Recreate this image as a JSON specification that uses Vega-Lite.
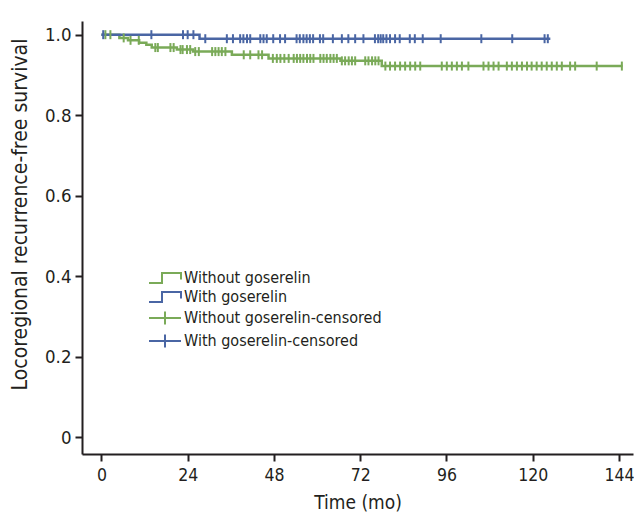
{
  "$schema": "https://vega.github.io/schema/vega-lite/v6.json",
  "width": 551,
  "height": 433,
  "autosize": "none",
  "padding": {"left": 82, "top": 21, "right": 1, "bottom": 60},
  "background": "white",
  "config": {
    "view": {"stroke": null},
    "font": "Liberation Sans Narrow, DejaVu Sans Condensed, sans-serif",
    "axis": {
      "grid": false,
      "domainColor": "#231f20",
      "domainWidth": 2,
      "tickColor": "#231f20",
      "tickWidth": 2,
      "tickSize": 7,
      "labelColor": "#231f20",
      "labelFontSize": 17.5,
      "labelFont": "Liberation Sans Narrow, DejaVu Sans Condensed, sans-serif",
      "titleFont": "Liberation Sans Narrow, DejaVu Sans Condensed, sans-serif",
      "titleFontSize": 19,
      "titleFontWeight": "normal",
      "titleColor": "#231f20"
    }
  },
  "datasets": {
    "km": [
      {"series": "Without goserelin", "t": 0, "s": 1.0},
      {"series": "Without goserelin", "t": 5.0, "s": 0.992},
      {"series": "Without goserelin", "t": 7.4, "s": 0.986},
      {"series": "Without goserelin", "t": 10.5, "s": 0.980},
      {"series": "Without goserelin", "t": 12.5, "s": 0.975},
      {"series": "Without goserelin", "t": 14.0, "s": 0.968},
      {"series": "Without goserelin", "t": 21.0, "s": 0.963},
      {"series": "Without goserelin", "t": 25.5, "s": 0.958},
      {"series": "Without goserelin", "t": 36.3, "s": 0.950},
      {"series": "Without goserelin", "t": 46.5, "s": 0.941},
      {"series": "Without goserelin", "t": 66.5, "s": 0.935},
      {"series": "Without goserelin", "t": 78.0, "s": 0.922},
      {"series": "Without goserelin", "t": 145.0, "s": 0.922},
      {"series": "With goserelin", "t": 0, "s": 1.0},
      {"series": "With goserelin", "t": 27.3, "s": 0.990},
      {"series": "With goserelin", "t": 124.9, "s": 0.990}
    ],
    "cens": [
      {"series": "Without goserelin-censored", "t": 1.1, "s": 1.0},
      {"series": "Without goserelin-censored", "t": 2.5, "s": 1.0},
      {"series": "Without goserelin-censored", "t": 6.2, "s": 0.992},
      {"series": "Without goserelin-censored", "t": 8.1, "s": 0.986},
      {"series": "Without goserelin-censored", "t": 10.4, "s": 0.986},
      {"series": "Without goserelin-censored", "t": 15.0, "s": 0.968},
      {"series": "Without goserelin-censored", "t": 15.7, "s": 0.968},
      {"series": "Without goserelin-censored", "t": 19.2, "s": 0.968},
      {"series": "Without goserelin-censored", "t": 20.1, "s": 0.968},
      {"series": "Without goserelin-censored", "t": 22.0, "s": 0.963},
      {"series": "Without goserelin-censored", "t": 22.6, "s": 0.963},
      {"series": "Without goserelin-censored", "t": 23.8, "s": 0.963},
      {"series": "Without goserelin-censored", "t": 24.7, "s": 0.963},
      {"series": "Without goserelin-censored", "t": 26.1, "s": 0.958},
      {"series": "Without goserelin-censored", "t": 27.1, "s": 0.958},
      {"series": "Without goserelin-censored", "t": 30.8, "s": 0.958},
      {"series": "Without goserelin-censored", "t": 31.7, "s": 0.958},
      {"series": "Without goserelin-censored", "t": 32.6, "s": 0.958},
      {"series": "Without goserelin-censored", "t": 33.5, "s": 0.958},
      {"series": "Without goserelin-censored", "t": 34.5, "s": 0.958},
      {"series": "Without goserelin-censored", "t": 39.6, "s": 0.950},
      {"series": "Without goserelin-censored", "t": 41.4, "s": 0.950},
      {"series": "Without goserelin-censored", "t": 43.7, "s": 0.950},
      {"series": "Without goserelin-censored", "t": 44.7, "s": 0.950},
      {"series": "Without goserelin-censored", "t": 47.7, "s": 0.941},
      {"series": "Without goserelin-censored", "t": 48.8, "s": 0.941},
      {"series": "Without goserelin-censored", "t": 49.8, "s": 0.941},
      {"series": "Without goserelin-censored", "t": 50.9, "s": 0.941},
      {"series": "Without goserelin-censored", "t": 52.1, "s": 0.941},
      {"series": "Without goserelin-censored", "t": 53.5, "s": 0.941},
      {"series": "Without goserelin-censored", "t": 54.4, "s": 0.941},
      {"series": "Without goserelin-censored", "t": 55.3, "s": 0.941},
      {"series": "Without goserelin-censored", "t": 56.2, "s": 0.941},
      {"series": "Without goserelin-censored", "t": 57.2, "s": 0.941},
      {"series": "Without goserelin-censored", "t": 58.1, "s": 0.941},
      {"series": "Without goserelin-censored", "t": 59.0, "s": 0.941},
      {"series": "Without goserelin-censored", "t": 60.9, "s": 0.941},
      {"series": "Without goserelin-censored", "t": 61.8, "s": 0.941},
      {"series": "Without goserelin-censored", "t": 62.7, "s": 0.941},
      {"series": "Without goserelin-censored", "t": 63.7, "s": 0.941},
      {"series": "Without goserelin-censored", "t": 64.6, "s": 0.941},
      {"series": "Without goserelin-censored", "t": 65.5, "s": 0.941},
      {"series": "Without goserelin-censored", "t": 66.9, "s": 0.935},
      {"series": "Without goserelin-censored", "t": 67.8, "s": 0.935},
      {"series": "Without goserelin-censored", "t": 68.8, "s": 0.935},
      {"series": "Without goserelin-censored", "t": 69.7, "s": 0.935},
      {"series": "Without goserelin-censored", "t": 70.6, "s": 0.935},
      {"series": "Without goserelin-censored", "t": 73.4, "s": 0.935},
      {"series": "Without goserelin-censored", "t": 74.3, "s": 0.935},
      {"series": "Without goserelin-censored", "t": 75.3, "s": 0.935},
      {"series": "Without goserelin-censored", "t": 76.2, "s": 0.935},
      {"series": "Without goserelin-censored", "t": 77.1, "s": 0.935},
      {"series": "Without goserelin-censored", "t": 79.0, "s": 0.922},
      {"series": "Without goserelin-censored", "t": 80.3, "s": 0.922},
      {"series": "Without goserelin-censored", "t": 81.7, "s": 0.922},
      {"series": "Without goserelin-censored", "t": 83.1, "s": 0.922},
      {"series": "Without goserelin-censored", "t": 84.5, "s": 0.922},
      {"series": "Without goserelin-censored", "t": 85.9, "s": 0.922},
      {"series": "Without goserelin-censored", "t": 87.3, "s": 0.922},
      {"series": "Without goserelin-censored", "t": 88.7, "s": 0.922},
      {"series": "Without goserelin-censored", "t": 94.7, "s": 0.922},
      {"series": "Without goserelin-censored", "t": 96.1, "s": 0.922},
      {"series": "Without goserelin-censored", "t": 97.5, "s": 0.922},
      {"series": "Without goserelin-censored", "t": 98.9, "s": 0.922},
      {"series": "Without goserelin-censored", "t": 100.3, "s": 0.922},
      {"series": "Without goserelin-censored", "t": 102.1, "s": 0.922},
      {"series": "Without goserelin-censored", "t": 106.3, "s": 0.922},
      {"series": "Without goserelin-censored", "t": 107.7, "s": 0.922},
      {"series": "Without goserelin-censored", "t": 109.1, "s": 0.922},
      {"series": "Without goserelin-censored", "t": 110.5, "s": 0.922},
      {"series": "Without goserelin-censored", "t": 112.8, "s": 0.922},
      {"series": "Without goserelin-censored", "t": 114.2, "s": 0.922},
      {"series": "Without goserelin-censored", "t": 115.6, "s": 0.922},
      {"series": "Without goserelin-censored", "t": 117.0, "s": 0.922},
      {"series": "Without goserelin-censored", "t": 118.4, "s": 0.922},
      {"series": "Without goserelin-censored", "t": 119.7, "s": 0.922},
      {"series": "Without goserelin-censored", "t": 121.1, "s": 0.922},
      {"series": "Without goserelin-censored", "t": 122.5, "s": 0.922},
      {"series": "Without goserelin-censored", "t": 123.9, "s": 0.922},
      {"series": "Without goserelin-censored", "t": 125.3, "s": 0.922},
      {"series": "Without goserelin-censored", "t": 126.7, "s": 0.922},
      {"series": "Without goserelin-censored", "t": 128.1, "s": 0.922},
      {"series": "Without goserelin-censored", "t": 130.4, "s": 0.922},
      {"series": "Without goserelin-censored", "t": 131.8, "s": 0.922},
      {"series": "Without goserelin-censored", "t": 137.8, "s": 0.922},
      {"series": "Without goserelin-censored", "t": 144.8, "s": 0.922},
      {"series": "With goserelin-censored", "t": 0.5, "s": 1.0},
      {"series": "With goserelin-censored", "t": 13.9, "s": 1.0},
      {"series": "With goserelin-censored", "t": 22.7, "s": 1.0},
      {"series": "With goserelin-censored", "t": 24.0, "s": 1.0},
      {"series": "With goserelin-censored", "t": 25.6, "s": 1.0},
      {"series": "With goserelin-censored", "t": 28.9, "s": 0.99},
      {"series": "With goserelin-censored", "t": 34.9, "s": 0.99},
      {"series": "With goserelin-censored", "t": 36.6, "s": 0.99},
      {"series": "With goserelin-censored", "t": 38.6, "s": 0.99},
      {"series": "With goserelin-censored", "t": 39.5, "s": 0.99},
      {"series": "With goserelin-censored", "t": 40.5, "s": 0.99},
      {"series": "With goserelin-censored", "t": 41.4, "s": 0.99},
      {"series": "With goserelin-censored", "t": 44.2, "s": 0.99},
      {"series": "With goserelin-censored", "t": 45.1, "s": 0.99},
      {"series": "With goserelin-censored", "t": 46.0, "s": 0.99},
      {"series": "With goserelin-censored", "t": 47.8, "s": 0.99},
      {"series": "With goserelin-censored", "t": 49.7, "s": 0.99},
      {"series": "With goserelin-censored", "t": 51.1, "s": 0.99},
      {"series": "With goserelin-censored", "t": 54.3, "s": 0.99},
      {"series": "With goserelin-censored", "t": 55.2, "s": 0.99},
      {"series": "With goserelin-censored", "t": 56.2, "s": 0.99},
      {"series": "With goserelin-censored", "t": 57.1, "s": 0.99},
      {"series": "With goserelin-censored", "t": 58.0, "s": 0.99},
      {"series": "With goserelin-censored", "t": 58.9, "s": 0.99},
      {"series": "With goserelin-censored", "t": 60.8, "s": 0.99},
      {"series": "With goserelin-censored", "t": 61.7, "s": 0.99},
      {"series": "With goserelin-censored", "t": 64.4, "s": 0.99},
      {"series": "With goserelin-censored", "t": 66.9, "s": 0.99},
      {"series": "With goserelin-censored", "t": 68.7, "s": 0.99},
      {"series": "With goserelin-censored", "t": 70.6, "s": 0.99},
      {"series": "With goserelin-censored", "t": 72.9, "s": 0.99},
      {"series": "With goserelin-censored", "t": 76.1, "s": 0.99},
      {"series": "With goserelin-censored", "t": 77.0, "s": 0.99},
      {"series": "With goserelin-censored", "t": 77.7, "s": 0.99},
      {"series": "With goserelin-censored", "t": 78.4, "s": 0.99},
      {"series": "With goserelin-censored", "t": 79.3, "s": 0.99},
      {"series": "With goserelin-censored", "t": 80.3, "s": 0.99},
      {"series": "With goserelin-censored", "t": 81.7, "s": 0.99},
      {"series": "With goserelin-censored", "t": 83.0, "s": 0.99},
      {"series": "With goserelin-censored", "t": 85.8, "s": 0.99},
      {"series": "With goserelin-censored", "t": 87.2, "s": 0.99},
      {"series": "With goserelin-censored", "t": 89.4, "s": 0.99},
      {"series": "With goserelin-censored", "t": 94.4, "s": 0.99},
      {"series": "With goserelin-censored", "t": 105.7, "s": 0.99},
      {"series": "With goserelin-censored", "t": 114.3, "s": 0.99},
      {"series": "With goserelin-censored", "t": 123.3, "s": 0.99},
      {"series": "With goserelin-censored", "t": 124.2, "s": 0.99}
    ]
  },
  "encoding": {
    "x": {
      "field": "t",
      "type": "quantitative",
      "scale": {"domain": [-5.4, 147.9], "nice": false, "zero": false},
      "axis": {"values": [0, 24, 48, 72, 96, 120, 144], "title": "Time (mo)", "labelPadding": 5, "titlePadding": 10}
    },
    "y": {
      "field": "s",
      "type": "quantitative",
      "scale": {"domain": [-0.042, 1.034], "nice": false, "zero": false},
      "axis": {
        "values": [0, 0.2, 0.4, 0.6, 0.8, 1.0],
        "labelExpr": "datum.value == 0 ? '0' : format(datum.value, '.1f')",
        "title": "Locoregional recurrence-free survival",
        "titleFontSize": 21,
        "labelFontSize": 18.5,
        "labelPadding": 4,
        "titlePadding": 14,
        "titleY": 193
      }
    }
  },
  "layer": [
    {
      "data": {"name": "km"},
      "mark": {"type": "line", "interpolate": "step-after", "strokeWidth": 2.5},
      "encoding": {
        "color": {
          "field": "series",
          "type": "nominal",
          "scale": {
            "domain": ["Without goserelin", "With goserelin", "Without goserelin-censored", "With goserelin-censored"],
            "range": ["#7aaa58", "#4a66a4", "#7aaa58", "#4a66a4"]
          },
          "legend": {
            "title": null,
            "orient": "none",
            "legendX": 75,
            "legendY": 249,
            "labelFontSize": 16,
            "labelLimit": 0,
            "labelColor": "#231f20",
            "labelFont": "Liberation Sans Narrow, DejaVu Sans Condensed, sans-serif",
            "symbolSize": 100,
            "symbolStrokeWidth": 2,
            "labelOffset": 11,
            "rowPadding": 1,
            "encode": {
              "symbols": {
                "update": {
                  "shape": {"signal": "indexof(datum.value, 'censored') >= 0 ? 'M-3.2,0H3.2M0,-1.3V1.3' : 'M-3.2,1H-0.6V-1H3.2V0.3'"},
                  "fill": {"value": "transparent"},
                  "strokeWidth": {"value": 2}
                }
              }
            }
          }
        }
      }
    },
    {
      "data": {"name": "cens"},
      "mark": {"type": "point", "shape": "M0,-1V1", "size": 81, "filled": false, "strokeWidth": 2, "opacity": 1},
      "encoding": {
        "color": {
          "field": "series",
          "type": "nominal",
          "legend": {
            "title": null,
            "orient": "none",
            "legendX": 75,
            "legendY": 249,
            "labelFontSize": 16,
            "labelLimit": 0,
            "labelColor": "#231f20",
            "labelFont": "Liberation Sans Narrow, DejaVu Sans Condensed, sans-serif",
            "symbolSize": 100,
            "symbolStrokeWidth": 2,
            "labelOffset": 11,
            "rowPadding": 1,
            "encode": {
              "symbols": {
                "update": {
                  "shape": {"signal": "indexof(datum.value, 'censored') >= 0 ? 'M-3.2,0H3.2M0,-1.3V1.3' : 'M-3.2,1H-0.6V-1H3.2V0.3'"},
                  "fill": {"value": "transparent"},
                  "strokeWidth": {"value": 2}
                }
              }
            }
          }
        }
      }
    },
    {
      "data": {"values": [{}]},
      "mark": {"type": "text", "fontSize": 17.5, "color": "#231f20", "font": "Liberation Sans Narrow, DejaVu Sans Condensed, sans-serif"},
      "encoding": {
        "x": {"datum": 118.2},
        "y": {"datum": 0.234},
        "text": {"value": "p=0.041"}
      }
    }
  ]
}
